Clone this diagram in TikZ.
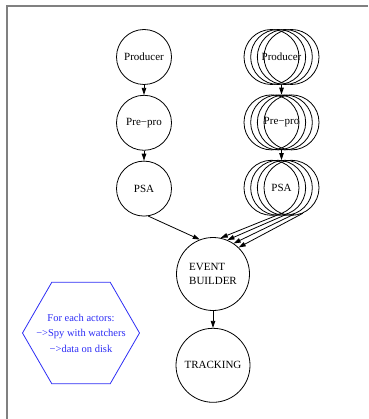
\documentclass[tikz,border=0pt]{standalone}
\usepackage{fontspec}
\setmainfont{Liberation Serif}
\usepackage{tikz}
\usetikzlibrary{shapes.geometric}
\usetikzlibrary{positioning}
\usetikzlibrary{arrows.meta}
\usepackage{xcolor}
\definecolor{framegray}{gray}{0.5}
\definecolor{infoblue}{RGB}{45,45,245}
\tikzset{
    node_actor/.style={circle, draw=black, line width=0.8pt, minimum size=55pt, inner sep=0pt, font=\fontsize{11}{14}\selectfont},
    node_stack/.style={circle, minimum size=55pt, inner sep=0pt, font=\fontsize{11}{14}\selectfont},
    node_big/.style={node_actor, minimum size=73pt},
    node_info/.style={regular polygon, regular polygon sides=6, draw=infoblue, line width=0.8pt, minimum size=117pt, inner sep=0pt},
    node_infotext/.style={align=center, text=infoblue, font=\fontsize{10.5}{15.5}\selectfont},
    edge_flow/.style={line width=0.8pt, -{Triangle[length=7pt, width=4.5pt]}}
}

\begin{document}
\begin{tikzpicture}[x=1pt, y=1pt, node distance=10pt]
    \useasboundingbox (0,0) rectangle (368,-419);
    \draw[framegray, line width=2pt] (368,-6) -- (6.5,-6) -- (6.5,-419);

    \node[node_actor](prodL) at (144,-57){Producer};
    \node[node_actor, below=of prodL](preL){Pre−pro};
    \node[node_actor, below=of preL](psaL){PSA};

    \node[node_stack](prodR) at (281.5,-57){Producer};
    \node[node_stack, below=of prodR](preR){Pre−pro};
    \node[node_stack, below=of preR](psaR){PSA};
    \foreach \s in {prodR, preR, psaR}
        \foreach \i in {1,...,4}
            \node[node_actor](\s\i) at ([xshift={(\i-2.5)*6.67pt}]\s){};

    \node[node_big, align=left](eb) at (213,-274){EVENT\\BUILDER};
    \node[node_big, minimum size=74pt, below=17pt of eb](trk){TRACKING};

    \node[node_info](info) at (81,-333){};
    \node[node_infotext](infotext) at (info){For each actors:\\−>Spy with watchers\\−>data on disk};

    \draw[edge_flow] (prodL) -- (preL);
    \draw[edge_flow] (preL) -- (psaL);
    \draw[edge_flow] (prodR) -- (preR);
    \draw[edge_flow] (preR) -- (psaR);
    \draw[edge_flow] (psaL.-81) -- (eb.111);
    \foreach \i/\a/\b in {1/-78/78, 2/-74/67, 3/-70/56, 4/-66/46}
        \draw[edge_flow] (psaR\i.\a) -- (eb.\b);
    \draw[edge_flow] (eb) -- (trk);
\end{tikzpicture}
\end{document}
